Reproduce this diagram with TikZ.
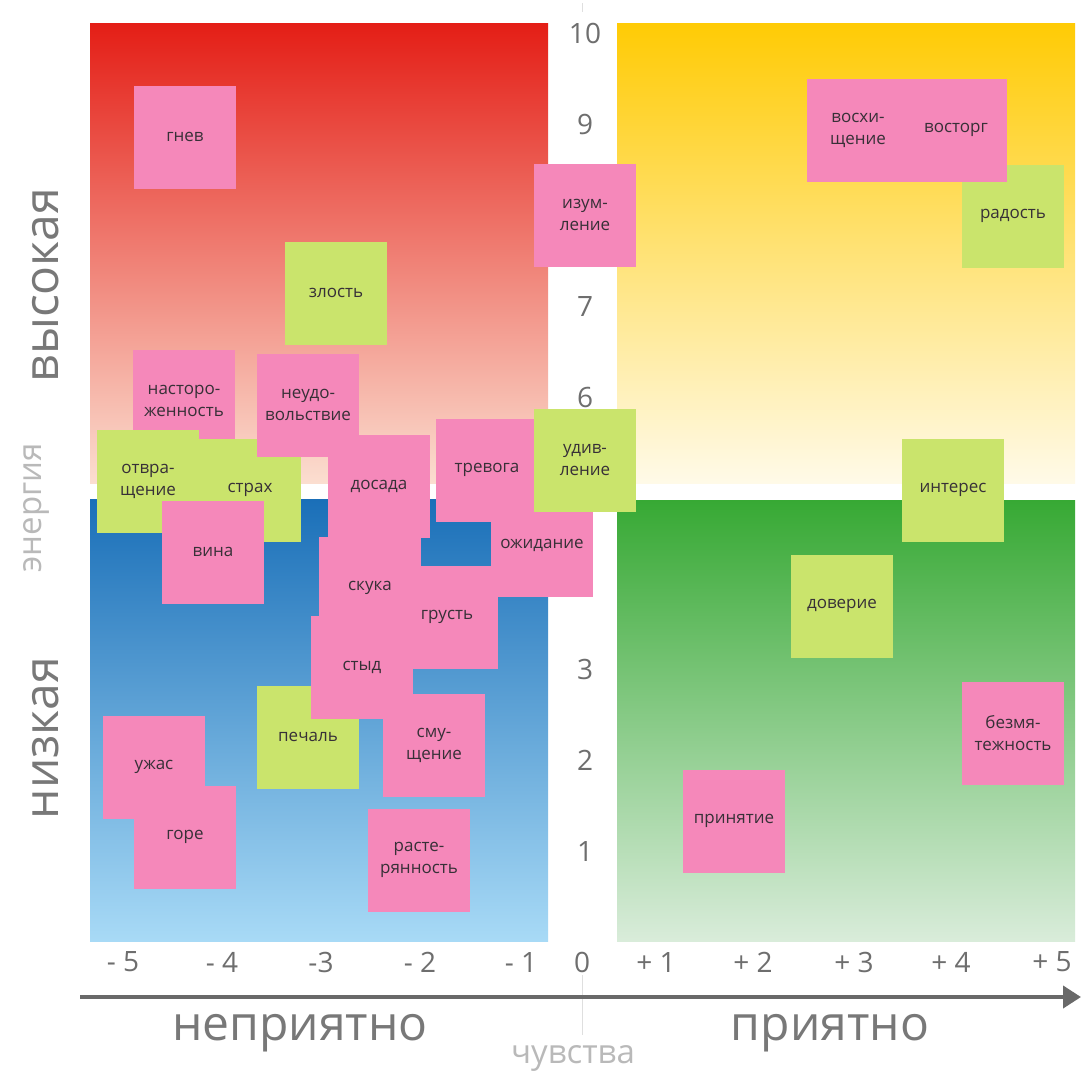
\documentclass[tikz,border=0pt]{standalone}
\usepackage{fontspec}
\setmainfont{Open Sans}
\usetikzlibrary{arrows.meta}

\definecolor{stpink}{RGB}{245,136,186}
\definecolor{stgreen}{RGB}{202,228,108}
\definecolor{sttext}{RGB}{55,48,55}
\definecolor{axgray}{RGB}{105,105,105}
\definecolor{numgray}{RGB}{110,110,110}

\tikzset{
  sticky/.style={minimum width=102pt, minimum height=103pt, inner sep=0pt,
    align=center, text=sttext, font=\fontsize{17}{22}\selectfont},
  pk/.style={sticky, fill=stpink},
  gr/.style={sticky, fill=stgreen},
  num/.style={text=numgray, font=\fontsize{28}{30}\selectfont, inner sep=0pt},
  bigword/.style={text=axgray!90, font=\fontsize{48}{50}\selectfont, inner sep=0pt},
  smallword/.style={text=gray!55, font=\fontsize{33}{35}\selectfont, inner sep=0pt}
}

\begin{document}
\begin{tikzpicture}[x=1pt, y=-1pt]
\useasboundingbox (0,0) rectangle (1082,1080);
\fill[white] (0,0) rectangle (1082,1080);

\shade[top color={rgb,255:red,228;green,30;blue,22}, middle color={rgb,255:red,238;green,128;blue,92},
  bottom color={rgb,255:red,251;green,222;blue,208}] (90,23) rectangle (548,483);
\shade[top color={rgb,255:red,255;green,203;blue,5}, middle color={rgb,255:red,255;green,224;blue,125},
  bottom color={rgb,255:red,255;green,250;blue,232}] (617,23) rectangle (1075,483);
\shade[top color={rgb,255:red,26;green,111;blue,184}, middle color={rgb,255:red,92;green,156;blue,214},
  bottom color={rgb,255:red,168;green,218;blue,246}] (90,499) rectangle (548,941);
\shade[top color={rgb,255:red,55;green,169;blue,52}, middle color={rgb,255:red,140;green,197;blue,127},
  bottom color={rgb,255:red,217;green,236;blue,218}] (617,500) rectangle (1075,941);

\foreach \v in {10,9,7,6,3,2,1}
  \node[num] (y\v) at (585, 942.5-90.9*\v) {\v};

\foreach \t/\x [count=\i] in {- 5/123, - 4/222, -3/321, - 2/420, - 1/521, 0/582,
    + 1/656, + 2/753, + 3/854, + 4/951, + 5/1052}
  \node[num] (xt\i) at (\x,962) {\t};

\coordinate (tick1) at (582,3);
\coordinate (tick2) at (582,12);
\draw[gray!25] (tick1) -- (tick2);
\coordinate (cl1) at (582,975);
\coordinate (cl2) at (582,1035);
\draw[gray!25] (cl1) -- (cl2);

\coordinate (axl) at (80,997);
\coordinate (axr) at (1081,997);
\draw[axgray, line width=4pt, -{Triangle[length=18pt,width=22pt]}] (axl) -- (axr);

\node[bigword] (nepr) at (300,1033) {неприятно};
\node[bigword] (pr) at (830,1033) {приятно};
\node[smallword] (chuv) at (573,1058) {чувства};
\node[bigword, rotate=90] (vys) at (46,285) {высокая};
\node[smallword, rotate=90] (energ) at (36,508) {энергия};
\node[bigword, rotate=90] (nizk) at (46,738) {низкая};

\node[pk] (gnev) at (185,137) {гнев};
\node[gr] (zlost) at (336,293) {злость};
\node[pk] (nastor) at (184,401) {насторо-\\женность};
\node[gr] (strah) at (250,490) {страх};
\node[pk] (dosada) at (379,486) {досада};
\node[pk] (neudov) at (308,405) {неудо-\\вольствие};
\node[gr] (otvr) at (148,481) {отвра-\\щение};
\node[pk] (vina) at (213,552) {вина};
\node[pk] (grust) at (447,617) {грусть};
\node[pk] (ozhid) at (542,545) {ожидание};
\node[pk] (trevoga) at (487,470) {тревога};
\node[gr] (udiv) at (585,460) {удив-\\ление};
\node[pk] (izum) at (585,215) {изум-\\ление};
\node[pk] (skuka) at (370,588) {скука};
\node[gr] (pechal) at (308,737) {печаль};
\node[pk] (smusch) at (434,745) {сму-\\щение};
\node[pk] (styd) at (362,667) {стыд};
\node[pk] (uzhas) at (154,767) {ужас};
\node[pk] (gore) at (185,837) {горе};
\node[pk] (raster) at (419,860) {расте-\\рянность};

\node[pk] (voshisch) at (858,130) {восхи-\\щение};
\node[gr] (radost) at (1013,216) {радость};
\node[pk] (vostorg) at (956,130) {восторг};
\node[gr] (interes) at (953,490) {интерес};
\node[gr] (doverie) at (842,606) {доверие};
\node[pk] (bezm) at (1013,733) {безмя-\\тежность};
\node[pk] (prin) at (734,821) {принятие};
\end{tikzpicture}
\end{document}
